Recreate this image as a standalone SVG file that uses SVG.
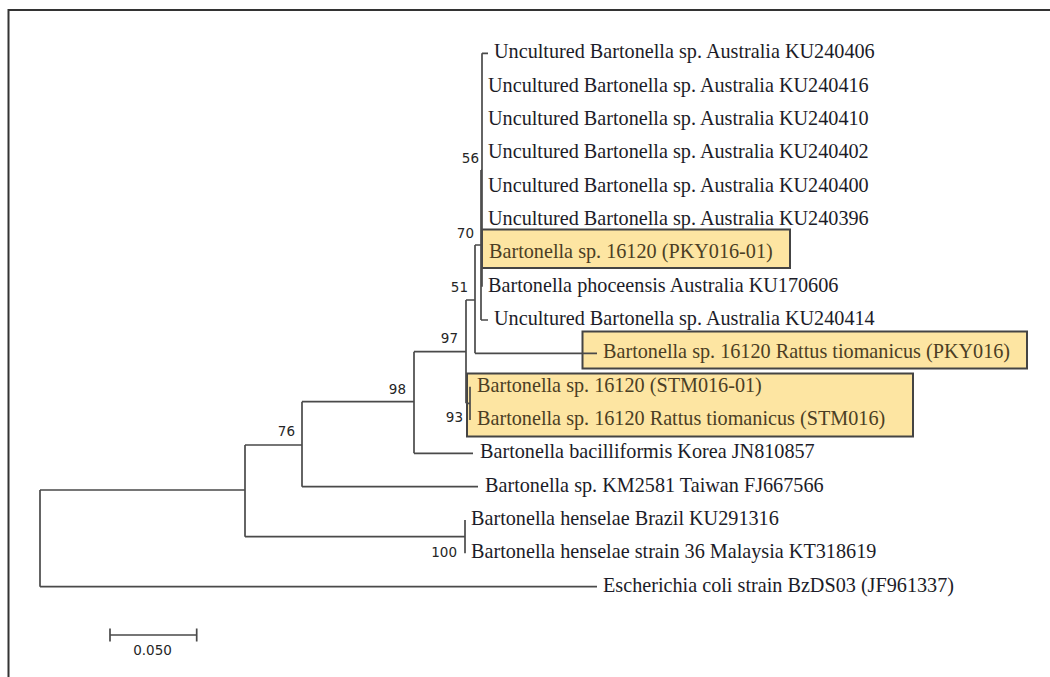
<svg xmlns="http://www.w3.org/2000/svg" width="1050" height="677" viewBox="0 0 1050 677">
<style>
.leaf{font-family:"Liberation Serif","Times New Roman",serif;font-size:20.2px;fill:#1c1c28}
.hl .leaf{fill:#4b3e24}
.box{fill:#fde5a2;stroke:#444;stroke-width:2}
.sup{font-family:"DejaVu Sans",Verdana,sans-serif;font-size:13.5px;fill:#262626;text-anchor:end}
.br{fill:none;stroke:#4a4a4a;stroke-width:1.7}
.frame{fill:none;stroke:#333;stroke-width:2}
</style>
<rect width="1050" height="677" fill="#fff"/>
<path class="frame" d="M8.5,677V10H1050"/>
<g id="leaves">
<g id="leaf-KU240406"><text class="leaf" x="494" y="58.3">Uncultured Bartonella sp. Australia KU240406</text></g>
<g id="leaf-KU240416"><text class="leaf" x="488" y="91.7">Uncultured Bartonella sp. Australia KU240416</text></g>
<g id="leaf-KU240410"><text class="leaf" x="488" y="125">Uncultured Bartonella sp. Australia KU240410</text></g>
<g id="leaf-KU240402"><text class="leaf" x="488" y="158.3">Uncultured Bartonella sp. Australia KU240402</text></g>
<g id="leaf-KU240400"><text class="leaf" x="488" y="191.7">Uncultured Bartonella sp. Australia KU240400</text></g>
<g id="leaf-KU240396"><text class="leaf" x="488" y="225">Uncultured Bartonella sp. Australia KU240396</text></g>
<g id="leaf-PKY016-01" class="hl"><rect class="box" x="482" y="229.5" width="308" height="38.5"/><text class="leaf" x="489" y="258.3">Bartonella sp. 16120 (PKY016-01)</text></g>
<g id="leaf-KU170606"><text class="leaf" x="488" y="291.7">Bartonella phoceensis Australia KU170606</text></g>
<g id="leaf-KU240414"><text class="leaf" x="494" y="325">Uncultured Bartonella sp. Australia KU240414</text></g>
<g id="leaf-PKY016" class="hl"><rect class="box" x="582.5" y="331.5" width="444.5" height="37"/><text class="leaf" x="603" y="358.3">Bartonella sp. 16120 Rattus tiomanicus (PKY016)</text></g>
<g id="leaf-STM016" class="hl"><rect class="box" x="467" y="373.5" width="446" height="63"/><text class="leaf" x="477" y="391.7">Bartonella sp. 16120 (STM016-01)</text><text class="leaf" x="477" y="425">Bartonella sp. 16120 Rattus tiomanicus (STM016)</text></g>
<g id="leaf-JN810857"><text class="leaf" x="480" y="458.3">Bartonella bacilliformis Korea JN810857</text></g>
<g id="leaf-FJ667566"><text class="leaf" x="485" y="491.7">Bartonella sp. KM2581 Taiwan FJ667566</text></g>
<g id="leaf-KU291316"><text class="leaf" x="471" y="525">Bartonella henselae Brazil KU291316</text></g>
<g id="leaf-KT318619"><text class="leaf" x="471" y="558.3">Bartonella henselae strain 36 Malaysia KT318619</text></g>
<g id="leaf-JF961337"><text class="leaf" x="603" y="591.7">Escherichia coli strain BzDS03 (JF961337)</text></g>
</g>
<g id="connectors" class="br">
<path d="M40,490V586.7M40,490H245M40,586.7H597"/>
<path d="M245,445V536.7M245,445H302M245,536.7H465"/>
<path d="M465,520V553.3"/>
<path d="M302,401.7V486.7M302,401.7H414M302,486.7H478"/>
<path d="M414,351.7V453.3M414,351.7H466M414,453.3H473"/>
<path d="M466,300V403.3M466,300H475M466,403.3H470"/>
<path d="M470,386.7V420"/>
<path d="M475,245V353.3M475,245H481M475,353.3H597"/>
<path d="M481,170V320M481,320H488M481,170H482"/>
<path d="M482,53.3V286.7M482,53.3H488"/>
</g>
<g id="nodes">
<g id="node-56"><text class="sup" x="479" y="163">56</text></g>
<g id="node-70"><text class="sup" x="474" y="238">70</text></g>
<g id="node-51"><text class="sup" x="468" y="292">51</text></g>
<g id="node-97"><text class="sup" x="458" y="343">97</text></g>
<g id="node-98"><text class="sup" x="406" y="394">98</text></g>
<g id="node-76"><text class="sup" x="295" y="436">76</text></g>
<g id="node-93"><text class="sup" x="463" y="422">93</text></g>
<g id="node-100"><text class="sup" x="457" y="557">100</text></g>
</g>
<g id="scale-bar">
<path class="br" d="M110,635H196.7M110,628.5V641.5M196.7,628.5V641.5"/>
<text class="sup" x="152.5" y="655" style="text-anchor:middle">0.050</text>
</g>
</svg>
